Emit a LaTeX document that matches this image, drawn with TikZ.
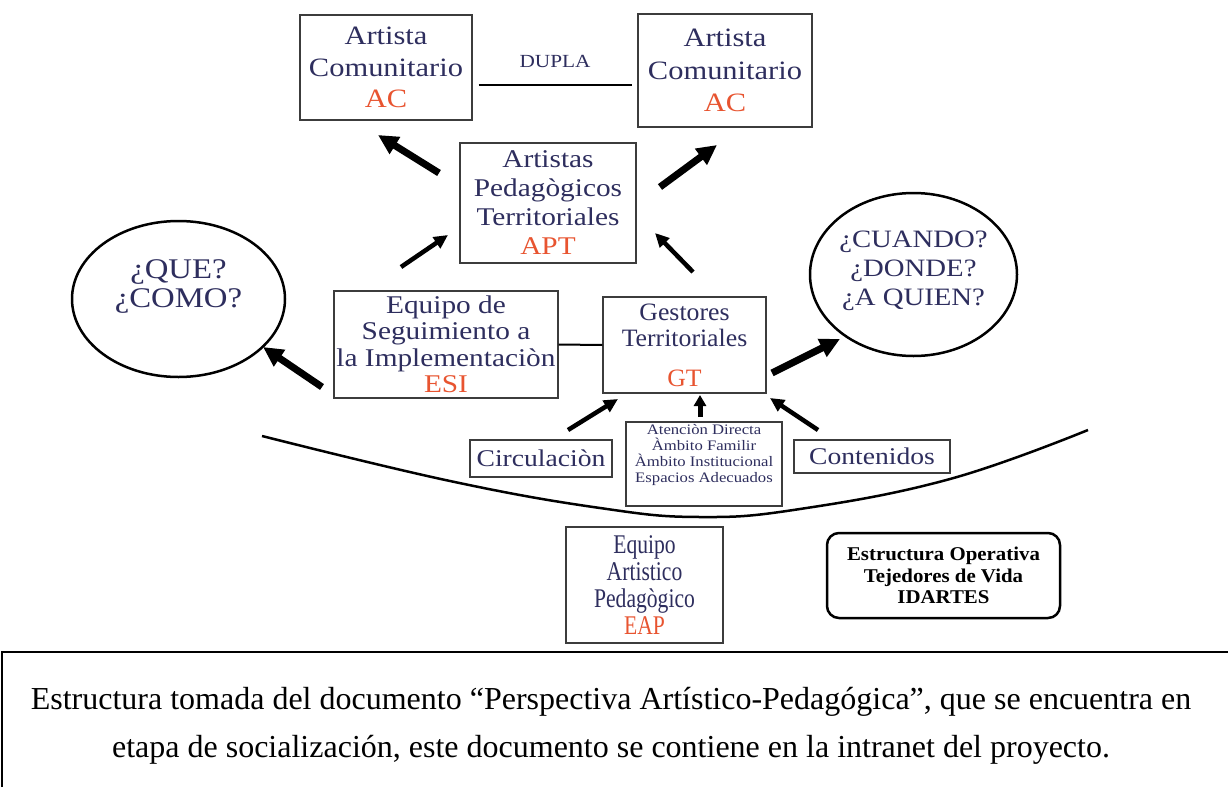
\documentclass[tikz,border=0pt]{standalone}
\usepackage{fontspec}
\setmainfont{Liberation Serif}
\newfontfamily\dgA[FakeStretch=1.15]{Liberation Serif}
\newfontfamily\dgB[FakeStretch=1.03]{Liberation Serif}
\newfontfamily\dgC[FakeStretch=0.8]{Liberation Serif}
\newfontfamily\dgD[FakeStretch=1.07]{Liberation Serif}
\usetikzlibrary{arrows.meta,shapes.geometric,calc}
\definecolor{navy}{RGB}{46,46,94}
\definecolor{acr}{RGB}{232,84,48}
\definecolor{boxc}{RGB}{60,60,60}
\newcommand{\fsz}[2]{\fontsize{#1}{#2}\selectfont}
\tikzset{
  box/.style={draw=boxc, line width=1.3pt, fill=white, inner sep=0pt, align=center, text=navy},
  ell/.style={draw=black, ellipse, line width=2.5pt, fill=white, inner sep=0pt},
  lbl/.style={align=center, text=navy, inner sep=0pt},
  bigarrow/.style={line width=7pt, -{Triangle[length=20pt,width=19pt]}},
  smallarrow/.style={line width=4.5pt, -{Triangle[length=14pt,width=13pt]}},
}
\begin{document}
\begin{tikzpicture}[x=1pt,y=-1pt]
\useasboundingbox (0,0) rectangle (1228,787);
\fill[white] (0,0) rectangle (1228,787);

% bottom curve
\draw[line width=2.5pt] plot[smooth,tension=0.7] coordinates {(262,436) (450,481) (600,508) (700,517) (800,509) (950,479) (1088,430)};

% top boxes
\node[box, minimum width=172, minimum height=105, font=\dgA\fsz{26.5}{31.5}] (acl) at (386,67.5) {Artista\\Comunitario\\\textcolor{acr}{AC}};
\node[box, minimum width=174, minimum height=113, font=\dgA\fsz{26.5}{32.5}] (acr) at (725,70.5) {Artista\\Comunitario\\\textcolor{acr}{AC}};
\node[font=\dgA\fsz{18.5}{20}, text=navy, inner sep=0pt] (dupla) at (555,61) {DUPLA};
\draw[line width=2.5pt] ($(acl.east)+(6,17.5)$) -- ($(acr.west)+(-5,14.5)$);

\node[box, minimum width=176, minimum height=120, font=\dgA\fsz{25.5}{29}] (apt) at (548,203) {Artistas\\Pedagògicos\\Territoriales\\\textcolor{acr}{APT}};

% ellipses
\node[ell, minimum width=213, minimum height=156,
  label={[lbl, font=\dgA\fsz{28.5}{29}, yshift=12pt]center:{¿QUE?\\¿COMO?}}] (qc) at (178.5,299) {};
\node[ell, minimum width=207, minimum height=163,
  label={[lbl, font=\dgA\fsz{25}{29}, yshift=4pt]center:{¿CUANDO?\\¿DONDE?\\¿A QUIEN?}}] (cdq) at (913.5,274.5) {};

% middle row
\node[box, minimum width=224, minimum height=107, font=\dgA\fsz{25.5}{26.5}] (esi) at (446,344.5) {Equipo de\\Seguimiento a\\la Implementaciòn\\\textcolor{acr}{ESI}};
\node[box, minimum width=163, minimum height=96, font=\dgB\fsz{25}{26}] (gt) at (684.5,345) {Gestores\\Territoriales\\[14pt]\textcolor{acr}{GT}};
\draw[line width=2pt] (esi.east) -- (gt.west);

% small boxes
\node[box, minimum width=142, minimum height=37, font=\dgA\fsz{24}{28}] (circ) at (541,458.5) {Circulaciòn};
\node[box, minimum width=156, minimum height=84,
  label={[lbl, font=\dgA\fsz{14.5}{16}, yshift=9pt]center:{Atenciòn Directa\\Àmbito Familir\\Àmbito Institucional\\Espacios Adecuados}}] (amb) at (704,464) {};
\node[box, minimum width=156, minimum height=33, font=\dgA\fsz{24}{28}] (cont) at (872,456.5) {Contenidos};

% bottom boxes
\node[box, minimum width=157, minimum height=116, font=\dgC\fsz{27}{27}] (eap) at (644.5,585) {Equipo\\Artistico\\Pedagògico\\\textcolor{acr}{EAP}};
\node[draw=black, line width=2.5pt, rounded corners=12pt, minimum width=233, minimum height=85, inner sep=0pt, align=center, font=\dgD\bfseries\fsz{19.5}{21.5}] (eo) at (943.5,575.5) {Estructura Operativa\\Tejedores de Vida\\IDARTES};

% arrow end points
\coordinate (t1) at (439,173); \coordinate (h1) at (378,135);
\coordinate (t2) at (660,187); \coordinate (h2) at (717,145);
\coordinate (t3) at (401,267); \coordinate (h3) at (448,235);
\coordinate (t4) at (693,272); \coordinate (h4) at (655,233);
\coordinate (t5) at (322,387); \coordinate (h5) at (263,347);
\coordinate (t6) at (772,373); \coordinate (h6) at (840,339);
\coordinate (t7) at (568,430); \coordinate (h7) at (618,399);
\coordinate (t8) at (700,417); \coordinate (h8) at (700,395);
\coordinate (t9) at (818,430); \coordinate (h9) at (770,398);

\draw[bigarrow] (t1) -- (h1);
\draw[bigarrow] (t2) -- (h2);
\draw[smallarrow] (t3) -- (h3);
\draw[smallarrow] (t4) -- (h4);
\draw[bigarrow] (t5) -- (h5);
\draw[bigarrow] (t6) -- (h6);
\draw[smallarrow] (t7) -- (h7);
\draw[line width=5pt, -{Triangle[length=11pt,width=12pt]}] (t8) -- (h8);
\draw[smallarrow] (t9) -- (h9);

% caption
\draw[line width=2pt] (2,787) -- (2,652) -- (1228,652);
\node[anchor=base, font=\fsz{32}{36}, inner sep=0pt] (cap1) at (611,709) {Estructura tomada del documento “Perspectiva Artístico-Pedagógica”, que se encuentra en};
\node[anchor=base, font=\fsz{32}{36}, inner sep=0pt] (cap2) at (611,757) {etapa de socialización, este documento se contiene en la intranet del proyecto.};
\end{tikzpicture}
\end{document}
